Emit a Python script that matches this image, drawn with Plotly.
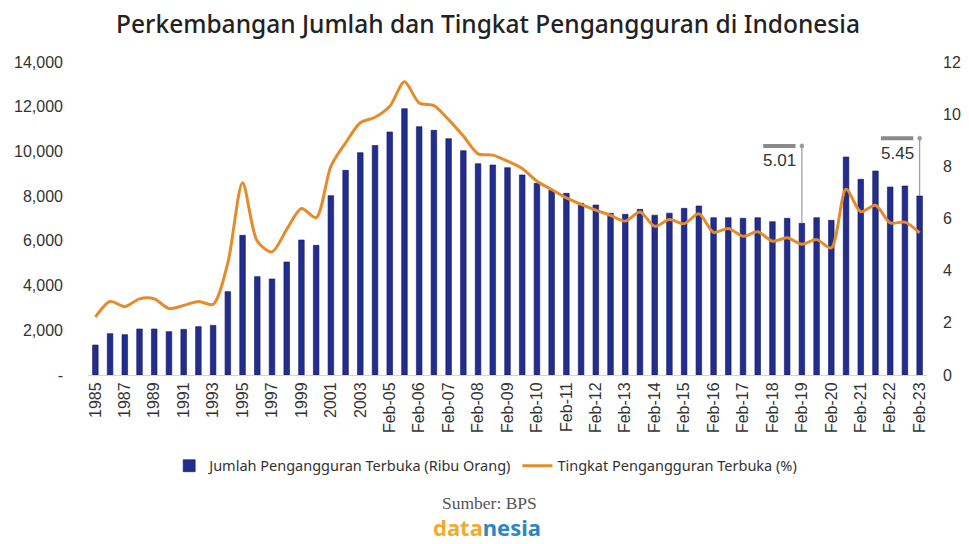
import plotly.graph_objects as go

categories = ([str(y) for y in range(1985, 2005)] +
              ["Feb-05", "Nov-05", "Feb-06", "Aug-06", "Feb-07", "Aug-07", "Feb-08", "Aug-08",
               "Feb-09", "Aug-09", "Feb-10", "Aug-10", "Feb-11", "Aug-11", "Feb-12", "Aug-12",
               "Feb-13", "Aug-13", "Feb-14", "Aug-14", "Feb-15", "Aug-15", "Feb-16", "Aug-16",
               "Feb-17", "Aug-17", "Feb-18", "Aug-18", "Feb-19", "Aug-19", "Feb-20", "Aug-20",
               "Feb-21", "Aug-21", "Feb-22", "Aug-22", "Feb-23"])

jumlah = [1342, 1849, 1804, 2058, 2058, 1938, 2043, 2162, 2222, 3728,
          6248, 4399, 4294, 5055, 6039, 5800, 8022, 9155, 9946, 10264,
          10870, 11913, 11108, 10944, 10572, 10035, 9453, 9394, 9274, 8946,
          8573, 8260, 8126, 7680, 7604, 7231, 7187, 7410, 7150, 7240,
          7455, 7560, 7037, 7037, 7008, 7037, 6859, 7008, 6784, 7037,
          6918, 9751, 8752, 9125, 8409, 8454, 8007]

tingkat = [2.22, 2.82, 2.62, 2.92, 2.92, 2.55, 2.67, 2.82, 2.71, 4.30,
           7.37, 5.13, 4.72, 5.58, 6.38, 6.03, 8.00, 8.90, 9.67, 9.88,
           10.30, 11.24, 10.43, 10.33, 9.79, 9.16, 8.48, 8.43, 8.20, 7.92,
           7.43, 7.11, 6.79, 6.54, 6.32, 6.12, 5.90, 6.25, 5.70, 5.96,
           5.80, 6.18, 5.47, 5.62, 5.32, 5.49, 5.13, 5.26, 5.01, 5.19,
           4.87, 7.12, 6.26, 6.51, 5.83, 5.86, 5.45]

tick_cats = [str(y) for y in range(1985, 2005, 2)] + ["Feb-%02d" % y for y in range(5, 24)]

left_tickvals = [0, 2000, 4000, 6000, 8000, 10000, 12000, 14000]
left_ticktext = ["-", "2,000", "4,000", "6,000", "8,000", "10,000", "12,000", "14,000"]
right_tickvals = [0, 2, 4, 6, 8, 10, 12]

highlight_cats = ["Feb-19", "Feb-23"]

BAR_COLOR = "#222d8c"
LINE_COLOR = "#e58b2c"
TICK_FONT = dict(family="Liberation Sans, Arial, sans-serif", size=16, color="#333333")

fig = go.Figure()
fig.add_trace(go.Bar(
    x=categories, y=jumlah, name="Jumlah Pengangguran Terbuka (Ribu Orang)",
    marker=dict(color=BAR_COLOR, line=dict(color="#111a66", width=0.6)),
    yaxis="y",
))
fig.add_trace(go.Scatter(
    x=categories, y=tingkat, name="Tingkat Pengangguran Terbuka (%)",
    mode="lines", line=dict(color=LINE_COLOR, width=3, shape="spline", smoothing=0.8),
    yaxis="y2",
))

# Callout annotations for highlighted rate values
callout_top = {"Feb-19": 10243, "Feb-23": 10587}
for cat in highlight_cats:
    i = categories.index(cat)
    top = callout_top[cat]
    fig.add_shape(type="line", xref="x", yref="y", x0=i, x1=i, y0=jumlah[i], y1=top,
                  line=dict(color="#9a9a9a", width=1.2))
    fig.add_shape(type="circle", xref="x", yref="y", x0=i - 0.12, x1=i + 0.12,
                  y0=top - 90, y1=top + 90, line=dict(color="#9a9a9a", width=1),
                  fillcolor="#9a9a9a")
    fig.add_shape(type="line", xref="x", yref="y", x0=i - 2.63, x1=i - 0.43, y0=top, y1=top,
                  line=dict(color="#8a8a8a", width=4))
    fig.add_annotation(x=i - 1.53, y=top - 150, xref="x", yref="y", text="%.2f" % tingkat[i],
                       showarrow=False, yanchor="top",
                       font=dict(family="Liberation Sans, Arial, sans-serif", size=17, color="#333333"))

fig.update_layout(
    width=961, height=536,
    margin=dict(l=80, r=42, t=54, b=169),
    paper_bgcolor="white", plot_bgcolor="white",
    bargap=0.62,
    showlegend=True,
    title=dict(text="Perkembangan Jumlah dan Tingkat Pengangguran di Indonesia",
               x=0.4995, xanchor="center", y=0.970, yanchor="middle",
               font=dict(family="Noto Sans, sans-serif", size=24.5, color="#222222", weight=500)),
    legend=dict(orientation="h", x=0.474, xanchor="center", y=-0.29, yanchor="middle",
                font=dict(family="Noto Sans, sans-serif", size=14.5, color="#333333"),
                itemwidth=30, bgcolor="rgba(0,0,0,0)"),
    xaxis=dict(type="category", categoryorder="array", categoryarray=categories,
               tickmode="array", tickvals=tick_cats, ticktext=tick_cats,
               tickangle=-90, tickfont=TICK_FONT, showgrid=False,
               showline=True, linecolor="#d4d4d4", linewidth=1, ticks="",
               range=[-0.5, len(categories) - 0.5], automargin=False),
    yaxis=dict(range=[0, 14000], tickmode="array", tickvals=left_tickvals, ticktext=left_ticktext,
               tickfont=TICK_FONT, showgrid=False, zeroline=False, showline=False,
               ticks="", ticklabelstandoff=24, automargin=False),
    yaxis2=dict(range=[0, 12], tickmode="array", tickvals=right_tickvals,
                tickfont=TICK_FONT, showgrid=False, zeroline=False, showline=False,
                overlaying="y", side="right", ticks="", ticklabelstandoff=15, automargin=False),
)

fig.add_annotation(xref="paper", yref="paper", x=0.479, y=-0.409, yanchor="middle",
                   text="Sumber: BPS", showarrow=False,
                   font=dict(family="Liberation Serif, DejaVu Serif, serif", size=17.5, color="#555555"))
fig.add_annotation(xref="paper", yref="paper", x=0.476, y=-0.4856, yanchor="middle",
                   text="<b><span style='color:#f0ac2e'>data</span><span style='color:#2d86c2'>nesia</span></b>",
                   showarrow=False,
                   font=dict(family="Noto Sans, sans-serif", size=22, color="#2d86c2"))

fig.write_html("out.html")
